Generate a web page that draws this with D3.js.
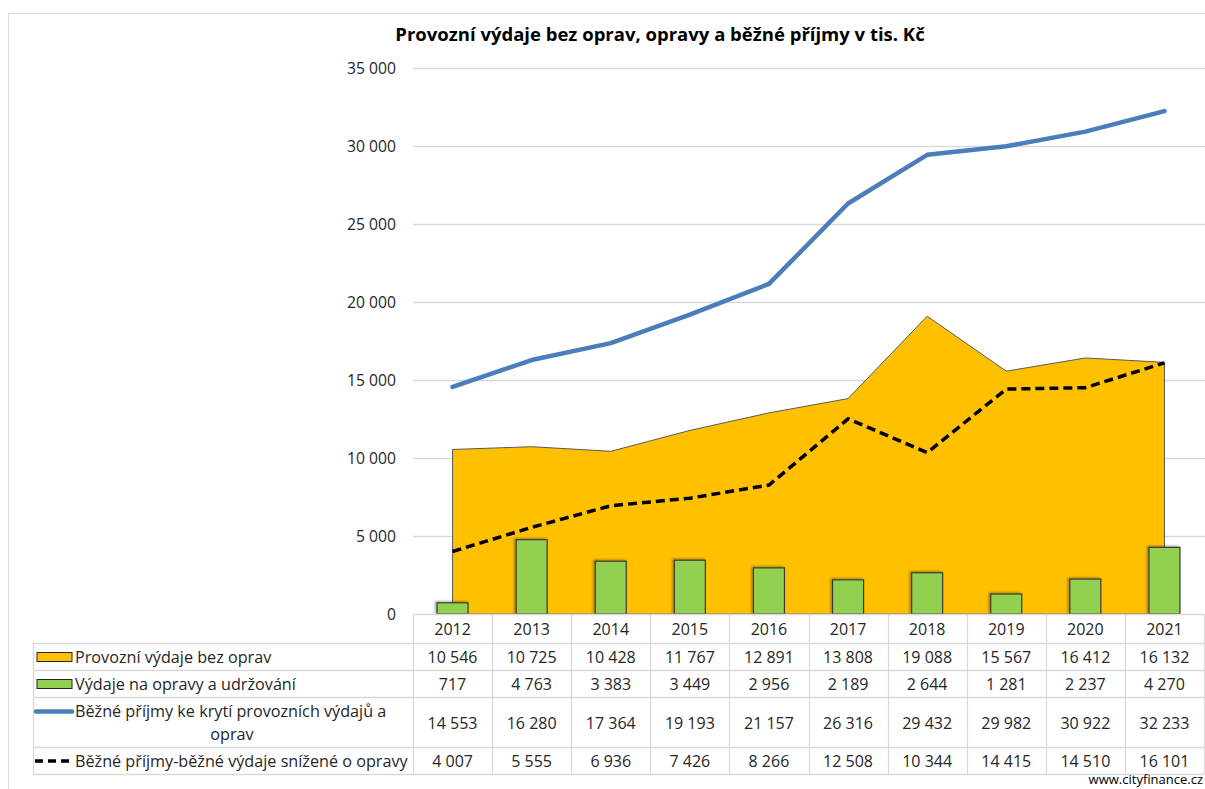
<!DOCTYPE html>
<html>
<head>
<meta charset="utf-8">
<script src="https://cdn.jsdelivr.net/npm/d3@7"></script>
<style>
  body { margin: 0; background: #fff; }
  svg text { font-family: "Open Sans", "Noto Sans", sans-serif; fill: #262626; }
</style>
</head>
<body>
<div id="chart"></div>
<script>
// data
var years = ["2012", "2013", "2014", "2015", "2016", "2017", "2018", "2019", "2020", "2021"];
var provozni = [10546, 10725, 10428, 11767, 12891, 13808, 19088, 15567, 16412, 16132];
var opravy = [717, 4763, 3383, 3449, 2956, 2189, 2644, 1281, 2237, 4270];
var prijmy = [14553, 16280, 17364, 19193, 21157, 26316, 29432, 29982, 30922, 32233];
var saldo = [4007, 5555, 6936, 7426, 8266, 12508, 10344, 14415, 14510, 16101];
var yTicks = [0, 5000, 10000, 15000, 20000, 25000, 30000, 35000];

var seriesNames = [
  "Provozní výdaje bez oprav",
  "Výdaje na opravy a udržování",
  "Běžné příjmy ke krytí provozních výdajů a oprav",
  "Běžné příjmy-běžné výdaje snížené o opravy"
];

var width = 1205, height = 789;
var plot = {left: 413, right: 1204, top: 68, bottom: 614};

// czech number format with space as thousands separator
var cz = d3.formatLocale({decimal: ",", thousands: "\u00a0", grouping: [3], currency: ["", " Kč"]});
var fmt = cz.format(",d");

var svg = d3.select("#chart").append("svg")
  .attr("width", width)
  .attr("height", height);

// drop shadow for the bars
var defs = svg.append("defs");
var f = defs.append("filter").attr("id", "shadow")
  .attr("x", "-30%").attr("y", "-30%").attr("width", "160%").attr("height", "160%");
f.append("feDropShadow").attr("dx", -1.5).attr("dy", -1).attr("stdDeviation", 1.2)
  .attr("flood-color", "#000").attr("flood-opacity", 0.35);

// outer frame (runs off the page on the right and bottom)
svg.append("rect")
  .attr("x", 8.5).attr("y", 13.5)
  .attr("width", 1300).attr("height", 900)
  .attr("fill", "none").attr("stroke", "#d9d9d9");

// title
svg.append("text")
  .attr("x", 660).attr("y", 41)
  .attr("text-anchor", "middle")
  .style("font-size", "18.5px")
  .style("font-weight", "bold")
  .style("fill", "#000")
  .text("Provozní výdaje bez oprav, opravy a běžné příjmy v tis. Kč");

// scales
var x = d3.scaleBand()
  .domain(years)
  .range([plot.left, plot.right])
  .padding(0);
var cx = function(d) { return x(d) + x.bandwidth() / 2; };

var y = d3.scaleLinear()
  .domain([0, 35000])
  .range([plot.bottom, plot.top]);

// gridlines
svg.append("g")
  .selectAll("line")
  .data(yTicks.slice(1))
  .enter().append("line")
  .attr("x1", plot.left).attr("x2", width)
  .attr("y1", function(d) { return Math.round(y(d)) + 0.5; })
  .attr("y2", function(d) { return Math.round(y(d)) + 0.5; })
  .attr("stroke", "#d9d9d9")
  .attr("stroke-width", 1.3);

// y axis labels
var yAxis = svg.append("g")
  .attr("transform", "translate(396,0)")
  .call(d3.axisLeft(y).tickValues(yTicks).tickSize(0).tickPadding(0).tickFormat(fmt));
yAxis.select(".domain").remove();
yAxis.selectAll("text")
  .style("font-size", "15.7px")
  .style("font-family", "\"Open Sans\", sans-serif")
  .attr("fill", "#262626")
  .attr("dy", "0.35em");

// area: provozni vydaje bez oprav
var area = d3.area()
  .x(function(d, i) { return cx(years[i]); })
  .y0(y(0))
  .y1(function(d) { return y(d); });

svg.append("path")
  .datum(provozni)
  .attr("d", area)
  .attr("fill", "#ffc000")
  .attr("stroke", "#595959")
  .attr("stroke-width", 1);

// bars: opravy
var barW = 31;
svg.append("g")
  .selectAll("rect")
  .data(opravy)
  .enter().append("rect")
  .attr("x", function(d, i) { return cx(years[i]) - barW / 2; })
  .attr("width", barW)
  .attr("y", function(d) { return y(d); })
  .attr("height", function(d) { return y(0) - y(d); })
  .attr("fill", "#92d050")
  .attr("stroke", "#3b3b3b")
  .attr("stroke-width", 1.2)
  .attr("filter", "url(#shadow)");

// lines
var line = d3.line()
  .x(function(d, i) { return cx(years[i]); })
  .y(function(d) { return y(d); });

svg.append("path")
  .datum(prijmy)
  .attr("d", line)
  .attr("fill", "none")
  .attr("stroke", "#4a7ebb")
  .attr("stroke-width", 4.5)
  .attr("stroke-linecap", "round")
  .attr("stroke-linejoin", "round");

svg.append("path")
  .datum(saldo)
  .attr("d", line)
  .attr("fill", "none")
  .attr("stroke", "#000")
  .attr("stroke-width", 3.5)
  .attr("stroke-dasharray", "9,5");

// data table
var rows = [
  {top: 643, bottom: 670, values: provozni},
  {top: 670, bottom: 697, values: opravy},
  {top: 697, bottom: 747, values: prijmy},
  {top: 747, bottom: 774, values: saldo}
];
var tableLeft = 33;
var grid = svg.append("g").attr("stroke", "#d9d9d9").attr("stroke-width", 1.3);

// header row border
grid.append("line").attr("x1", plot.left).attr("x2", plot.right).attr("y1", 614.5).attr("y2", 614.5);
// horizontal rules
var hs = [643, 670, 697, 747, 774];
hs.forEach(function(h) {
  grid.append("line").attr("x1", tableLeft).attr("x2", plot.right).attr("y1", h + 0.5).attr("y2", h + 0.5);
});
// vertical rules
grid.append("line").attr("x1", tableLeft + 0.5).attr("x2", tableLeft + 0.5).attr("y1", 643).attr("y2", 774.5);
years.concat(["end"]).forEach(function(yr, i) {
  var xx = Math.round(plot.left + i * x.bandwidth()) + 0.5;
  grid.append("line").attr("x1", xx).attr("x2", xx).attr("y1", 614).attr("y2", 774.5);
});

// year labels
svg.append("g")
  .selectAll("text")
  .data(years)
  .enter().append("text")
  .attr("x", function(d) { return cx(d); })
  .attr("y", 629)
  .attr("dy", "0.35em")
  .attr("text-anchor", "middle")
  .style("font-size", "16px")
  .text(function(d) { return d; });

// table values
rows.forEach(function(r) {
  svg.append("g")
    .selectAll("text")
    .data(r.values)
    .enter().append("text")
    .attr("x", function(d, i) { return cx(years[i]); })
    .attr("y", (r.top + r.bottom) / 2 + 1)
    .attr("dy", "0.35em")
    .attr("text-anchor", "middle")
    .style("font-size", "16px")
    .text(function(d) { return fmt(d); });
});

// legend keys
var keyX0 = 37, keyX1 = 72;
svg.append("rect")
  .attr("x", keyX0).attr("y", 652.5).attr("width", keyX1 - keyX0).attr("height", 9)
  .attr("fill", "#ffc000").attr("stroke", "#262626").attr("stroke-width", 1);
svg.append("rect")
  .attr("x", keyX0).attr("y", 679.5).attr("width", keyX1 - keyX0).attr("height", 9)
  .attr("fill", "#92d050").attr("stroke", "#262626").attr("stroke-width", 1);
svg.append("line")
  .attr("x1", 36).attr("x2", 72).attr("y1", 711.5).attr("y2", 711.5)
  .attr("stroke", "#4a7ebb").attr("stroke-width", 4.5).attr("stroke-linecap", "round");
svg.append("line")
  .attr("x1", 35).attr("x2", 73).attr("y1", 761).attr("y2", 761)
  .attr("stroke", "#000").attr("stroke-width", 3.5).attr("stroke-dasharray", "8,5");

// legend labels
var lab = svg.append("g").style("font-size", "16.2px");
lab.append("text").attr("x", 75).attr("y", 657).attr("dy", "0.35em").text(seriesNames[0]);
lab.append("text").attr("x", 75).attr("y", 684).attr("dy", "0.35em").text(seriesNames[1]);
lab.append("text").attr("x", 75).attr("y", 711).attr("dy", "0.35em").text("Běžné příjmy ke krytí provozních výdajů a");
lab.append("text").attr("x", 232).attr("y", 734).attr("dy", "0.35em").attr("text-anchor", "middle").text("oprav");
lab.append("text").attr("x", 75).attr("y", 761).attr("dy", "0.35em").text(seriesNames[3]);

// source
svg.append("text")
  .attr("x", 1203).attr("y", 784)
  .attr("text-anchor", "end")
  .style("font-size", "13px")
  .style("fill", "#000")
  .text("www.cityfinance.cz");
</script>
</body>
</html>
